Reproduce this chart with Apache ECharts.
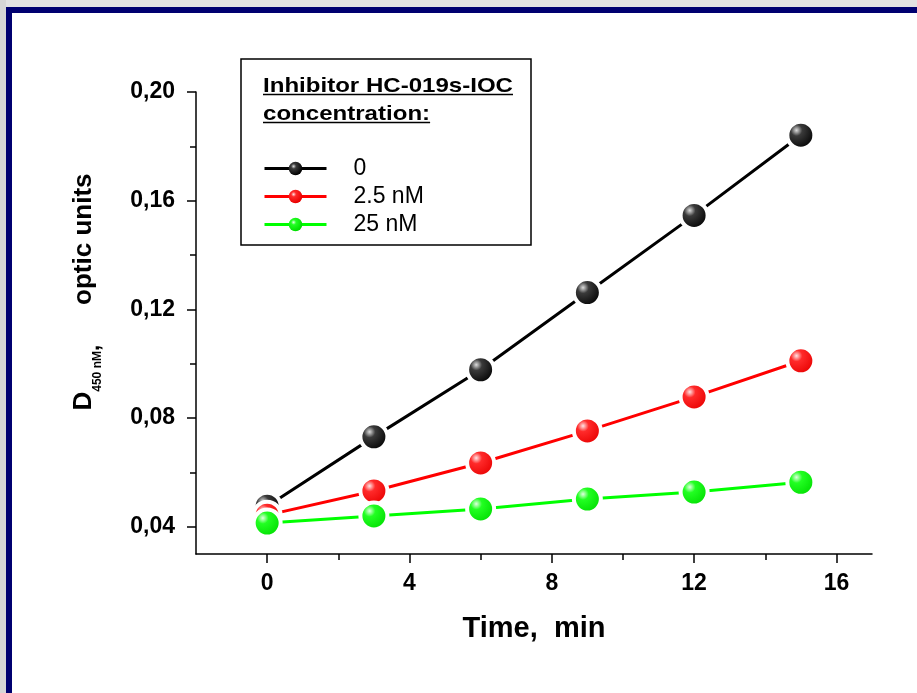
<!DOCTYPE html>
<html>
<head>
<meta charset="utf-8">
<script src="https://cdn.jsdelivr.net/npm/echarts@6/dist/echarts.min.js"></script>
<style>
html,body{margin:0;padding:0;background:#fff;}
#chart{width:917px;height:693px;}
</style>
</head>
<body>
<div id="chart"></div>
<script>
// ---- data ----
var timePoints = [0, 3, 6, 9, 12, 15];
var seriesNames = ['0', '2.5 nM', '25 nM'];
var valuesControl = [0.0476, 0.0731, 0.0978, 0.1262, 0.1546, 0.1841];
var values2_5nM   = [0.0443, 0.0532, 0.0635, 0.0753, 0.0878, 0.1011];
var values25nM    = [0.0414, 0.0440, 0.0466, 0.0502, 0.0528, 0.0564];
var xTickLabels = [0, 4, 8, 12, 16];
var xMinorTicks = [2, 6, 10, 14];
var yTickLabels = [0.04, 0.08, 0.12, 0.16, 0.20];
var yMinorTicks = [0.06, 0.10, 0.14, 0.18];
var legendTitle1 = 'Inhibitor HC-019s-IOC';
var legendTitle2 = 'concentration:';
var xAxisTitle = 'Time,  min';

var FONT = 'Arial, "Liberation Sans", sans-serif';

function pairs(xs, ys){ return xs.map(function(x,i){ return [x, ys[i]]; }); }

function sphere(c0, c1, c2){
  return new echarts.graphic.RadialGradient(0.36, 0.34, 0.66, [
    {offset:0, color:c0},{offset:0.28, color:c1},{offset:1, color:c2}
  ]);
}

function measure(text, font){
  var c = document.createElement('canvas').getContext('2d');
  c.font = font; return c.measureText(text).width;
}

var colors = ['#000000', '#ff0000', '#00ff00'];
var grads = [
  sphere('#dcdcdc', '#3a3a3a', '#000000'),
  sphere('#ffe4e4', '#ff2a2a', '#e80000'),
  sphere('#e0ffe0', '#22ff22', '#00dd00')
];
var datasets = [valuesControl, values2_5nM, values25nM];

var series = datasets.map(function(vals, i){
  return {
    name: seriesNames[i], type: 'line', xAxisIndex: 0, yAxisIndex: 0,
    data: pairs(timePoints, vals),
    symbol: 'circle', symbolSize: 27,
    lineStyle: {color: colors[i], width: 3},
    itemStyle: {color: grads[i], borderColor: '#ffffff', borderWidth: 4},
    emphasis: {disabled: true},
    z: 2 + i
  };
});

var titleFont = 'bold 21px ' + FONT;
var w1 = measure(legendTitle1, titleFont), w2 = measure(legendTitle2, titleFont);
var sx = 250 / w1;

var chart = echarts.init(document.getElementById('chart'), null, {renderer:'canvas'});
chart.setOption({
  animation: false,
  backgroundColor: '#ffffff',
  grid: {left: 196, right: 45, top: 92, bottom: 139, containLabel: false},
  xAxis: [{
    type: 'value', min: -2, max: 17,
    axisLine: {show: true, onZero: false, lineStyle: {color:'#000', width: 1.5}},
    axisTick: {show: true, customValues: xTickLabels, length: 9, inside: false, lineStyle:{color:'#000', width:1.5}},
    axisLabel: {customValues: xTickLabels, color:'#000', fontFamily: FONT, fontWeight:'bold', fontSize: 23, margin: 18},
    splitLine: {show:false},
    name: xAxisTitle, nameLocation: 'middle', nameGap: 60,
    nameTextStyle: {color:'#000', fontFamily: FONT, fontWeight:'bold', fontSize: 29}
  },{
    type: 'value', min: -2, max: 17, position:'bottom',
    axisLine: {show:false, onZero: false},
    axisTick: {show: true, customValues: xMinorTicks, length: 6, lineStyle:{color:'#000', width:1.5}},
    axisLabel: {show:false}, splitLine:{show:false}
  }],
  yAxis: [{
    type: 'value', min: 0.03, max: 0.20,
    axisLine: {show: true, onZero: false, lineStyle: {color:'#000', width: 1.5}},
    axisTick: {show: true, customValues: yTickLabels, length: 9, lineStyle:{color:'#000', width:1.5}},
    axisLabel: {customValues: yTickLabels, color:'#000', fontFamily: FONT, fontWeight:'bold', fontSize: 23, margin: 21,
      formatter: function(v){ return v.toFixed(2).replace('.', ','); }},
    splitLine: {show:false}
  },{
    type: 'value', min: 0.03, max: 0.20, position:'left',
    axisLine: {show:false, onZero: false},
    axisTick: {show: true, customValues: yMinorTicks, length: 6, lineStyle:{color:'#000', width:1.5}},
    axisLabel: {show:false}, splitLine:{show:false}
  }],
  legend: {
    data: seriesNames, orient: 'vertical', left: 258, top: 152,
    itemWidth: 62, itemHeight: 17, itemGap: 5,
    itemStyle: {borderWidth: 0},
    lineStyle: {width: 3},
    textStyle: {color:'#000', fontFamily: FONT, fontSize: 23, lineHeight: 23, padding:[0,0,0,22]},
    selectedMode: false
  },
  graphic: [
    {type:'rect', z:-10, shape:{x:0,y:0,width:917,height:7}, style:{fill:'#e2e2e2'}},
    {type:'rect', z:-10, shape:{x:0,y:0,width:6,height:693}, style:{fill:'#d6d6d6'}},
    {type:'rect', z:-9, shape:{x:6,y:7,width:911,height:6}, style:{fill:'#000070'}},
    {type:'rect', z:-9, shape:{x:6,y:7,width:6,height:686}, style:{fill:'#000070'}},
    {type:'rect', z:-8, shape:{x:241,y:59,width:290,height:186}, style:{fill:'#fff', stroke:'#000', lineWidth:1.5}},
    {type:'text', z:5, x:263, y:86, scaleX: sx, style:{text: legendTitle1, font: titleFont, fill:'#000', align:'left', verticalAlign:'middle'}},
    {type:'line', z:5, shape:{x1:263, y1:94.5, x2:263+w1*sx, y2:94.5}, style:{stroke:'#000', lineWidth:1.5}},
    {type:'text', z:5, x:263, y:114, scaleX: sx, style:{text: legendTitle2, font: titleFont, fill:'#000', align:'left', verticalAlign:'middle'}},
    {type:'line', z:5, shape:{x1:263, y1:122.5, x2:263+w2*sx, y2:122.5}, style:{stroke:'#000', lineWidth:1.5}},
    {type:'text', z:5, x:84, y:292, rotation: Math.PI/2,
      style:{
        text: '{d|D}{s|450 nM}{c|,}{d|optic units}',
        align:'center', verticalAlign:'middle', fill:'#000',
        rich: {
          d: {fontFamily: FONT, fontWeight:'bold', fontSize: 26, lineHeight: 40, verticalAlign:'middle', fill:'#000'},
          s: {fontFamily: FONT, fontWeight:'bold', fontSize: 12, lineHeight: 40, verticalAlign:'bottom', fill:'#000'},
          c: {fontFamily: FONT, fontWeight:'bold', fontSize: 22, lineHeight: 40, verticalAlign:'bottom', fill:'#000', padding:[0,40,0,0]}
        }
      }}
  ],
  series: series
});
</script>
</body>
</html>
